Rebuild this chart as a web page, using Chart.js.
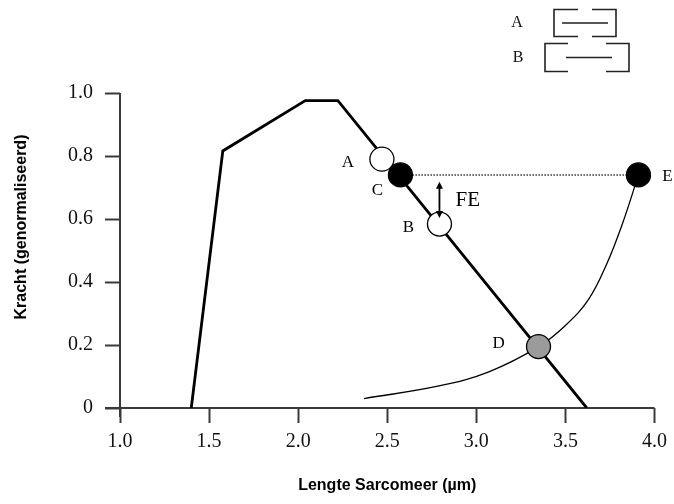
<!DOCTYPE html>
<html>
<head>
<meta charset="utf-8">
<script src="https://cdn.jsdelivr.net/npm/chart.js@4"></script>
<style>
  html, body { margin: 0; padding: 0; background: #ffffff; }
  #wrap { width: 674px; height: 504px; }
</style>
</head>
<body>
<div id="wrap"><canvas id="myChart" width="674" height="504"></canvas></div>
<script>
// active force-length relation (sarcomere length in um, normalised force)
var activeX = [1.40, 1.577, 2.04, 2.223, 3.62];
var activeY = [0, 0.816, 0.976, 0.976, 0];

// passive force curve
var passiveX = [2.37, 2.79, 3.07, 3.35, 3.50, 3.63, 3.73, 3.82, 3.91];
var passiveY = [0.03, 0.07, 0.115, 0.195, 0.262, 0.345, 0.455, 0.585, 0.74];

// labelled states
var pointNames = ['A', 'B', 'C', 'D', 'E'];
var pointX = [2.47, 2.793, 2.574, 3.349, 3.91];
var pointY = [0.79, 0.584, 0.74, 0.195, 0.74];
var pointFill = ['#ffffff', '#ffffff', '#000000', '#9b9b9b', '#000000'];

// horizontal dotted line C -> E
var dottedX = [2.574, 3.91];
var dottedY = [0.74, 0.74];

// force enhancement arrow (FE)
var arrowX = 2.793;
var arrowY = [0.718, 0.603];
var arrowLabel = 'FE';

var xMin = 1, xMax = 4, xStep = 0.5;
var yMin = 0, yMax = 1, yStep = 0.2;

var xTitle = 'Lengte Sarcomeer (\u00b5m)';
var yTitle = 'Kracht (genormaliseerd)';

var serif = '"Liberation Serif", "DejaVu Serif", serif';
var sans = '"Liberation Sans", Arial, sans-serif';

function toPoints(xs, ys) {
  var d = [];
  for (var i = 0; i < xs.length; i++) {
    d.push({x: xs[i], y: ys[i]});
  }
  return d;
}

// pixel offsets of the point letters from their circles
var labelOffsets = {A: [-34, 3], B: [-31, 3], C: [-23, 16], D: [-40, -3], E: [29, 2]};

function drawSarcomere(ctx, s) {
  ctx.beginPath();
  // left bracket
  ctx.moveTo(s.left + s.arm, s.top);
  ctx.lineTo(s.left, s.top);
  ctx.lineTo(s.left, s.bottom);
  ctx.lineTo(s.left + s.arm, s.bottom);
  // right bracket
  ctx.moveTo(s.right - s.arm, s.top);
  ctx.lineTo(s.right, s.top);
  ctx.lineTo(s.right, s.bottom);
  ctx.lineTo(s.right - s.arm, s.bottom);
  // thick filament
  var mid = (s.top + s.bottom) / 2;
  ctx.moveTo(s.midL, mid);
  ctx.lineTo(s.midR, mid);
  ctx.stroke();
  ctx.fillText(s.name, s.labelX, mid);
}

var annotate = {
  id: 'annotate',
  beforeDatasetsDraw: function(chart) {
    var ctx = chart.ctx;
    var x = chart.scales.x, y = chart.scales.y;
    var x0 = x.getPixelForValue(xMin), y0 = y.getPixelForValue(yMin);
    ctx.save();
    ctx.strokeStyle = '#3a3a3a';
    ctx.lineWidth = 2;
    ctx.beginPath();
    ctx.moveTo(x0 - 15, y0);
    ctx.lineTo(x.getPixelForValue(xMax), y0);
    ctx.moveTo(x0, y.getPixelForValue(yMax));
    ctx.lineTo(x0, y0 + 9);
    ctx.stroke();
    ctx.restore();
  },
  afterDatasetsDraw: function(chart) {
    var ctx = chart.ctx;
    var x = chart.scales.x, y = chart.scales.y;
    ctx.save();

    // FE double arrow
    var ax = x.getPixelForValue(arrowX);
    var a1 = y.getPixelForValue(arrowY[0]);
    var a2 = y.getPixelForValue(arrowY[1]);
    ctx.strokeStyle = '#000';
    ctx.fillStyle = '#000';
    ctx.lineWidth = 1.8;
    ctx.beginPath();
    ctx.moveTo(ax, a1 + 4);
    ctx.lineTo(ax, a2 - 4);
    ctx.stroke();
    ctx.beginPath();
    ctx.moveTo(ax, a1);
    ctx.lineTo(ax - 3.5, a1 + 7);
    ctx.lineTo(ax + 3.5, a1 + 7);
    ctx.closePath();
    ctx.moveTo(ax, a2);
    ctx.lineTo(ax - 3.5, a2 - 7);
    ctx.lineTo(ax + 3.5, a2 - 7);
    ctx.closePath();
    ctx.fill();

    ctx.font = '21px ' + serif;
    ctx.textAlign = 'left';
    ctx.textBaseline = 'middle';
    ctx.fillText(arrowLabel, ax + 16, (a1 + a2) / 2 + 1);

    // point letters
    ctx.font = '17px ' + serif;
    ctx.textAlign = 'center';
    for (var i = 0; i < pointNames.length; i++) {
      var off = labelOffsets[pointNames[i]];
      ctx.fillText(pointNames[i], x.getPixelForValue(pointX[i]) + off[0], y.getPixelForValue(pointY[i]) + off[1]);
    }

    // sarcomere sketches, top right
    ctx.lineWidth = 1.6;
    ctx.strokeStyle = '#222';
    ctx.fillStyle = '#111';
    ctx.font = '16px ' + serif;
    drawSarcomere(ctx, {name: 'A', labelX: 517, left: 554, right: 616, top: 9.5, bottom: 36.5, arm: 24, midL: 562, midR: 608});
    drawSarcomere(ctx, {name: 'B', labelX: 518, left: 545, right: 629, top: 43.5, bottom: 71.5, arm: 23, midL: 566, midR: 612});

    // y axis title
    ctx.save();
    ctx.translate(22, 227);
    ctx.rotate(-Math.PI / 2);
    ctx.font = 'bold 16px ' + sans;
    ctx.fillStyle = '#000';
    ctx.textAlign = 'center';
    ctx.textBaseline = 'middle';
    ctx.fillText(yTitle, 0, 0);
    ctx.restore();

    ctx.restore();
  }
};

window.onload = function() {
  var ctx = document.getElementById('myChart').getContext('2d');

  var pointsDataSet = {
    data: toPoints(pointX, pointY),
    showLine: false,
    pointRadius: 12,
    pointHoverRadius: 12,
    pointBackgroundColor: pointFill,
    pointBorderColor: '#000',
    pointBorderWidth: 1.3,
    order: 0
  };

  var activeDataSet = {
    data: toPoints(activeX, activeY),
    showLine: true,
    borderColor: '#000',
    borderWidth: 2.8,
    pointRadius: 0,
    order: 1
  };

  var passiveDataSet = {
    data: toPoints(passiveX, passiveY),
    showLine: true,
    borderColor: '#000',
    borderWidth: 1.3,
    tension: 0.4,
    pointRadius: 0,
    order: 2
  };

  var dottedDataSet = {
    data: toPoints(dottedX, dottedY),
    showLine: true,
    borderColor: '#333',
    borderWidth: 1.5,
    borderDash: [1.5, 1.5],
    pointRadius: 0,
    order: 3
  };

  new Chart(ctx, {
    type: 'scatter',
    data: {
      datasets: [pointsDataSet, activeDataSet, passiveDataSet, dottedDataSet]
    },
    options: {
      responsive: false,
      animation: false,
      events: [],
      layout: {padding: {top: 93, right: 19, left: 0, bottom: 0}},
      plugins: {legend: {display: false}, tooltip: {enabled: false}},
      scales: {
        x: {
          type: 'linear',
          min: xMin,
          max: xMax,
          afterFit: function(scale) { scale.height = 96; },
          border: {display: false},
          grid: {drawOnChartArea: false, drawTicks: true, tickLength: 15, tickColor: '#3a3a3a', tickWidth: 2},
          ticks: {
            stepSize: xStep,
            padding: 7,
            color: '#111',
            font: {family: serif, size: 20},
            callback: function(v) { return v.toFixed(1); }
          },
          title: {
            display: true,
            text: xTitle,
            color: '#000',
            font: {family: sans, size: 16, weight: 'bold'},
            padding: {top: 0, bottom: 9}
          }
        },
        y: {
          type: 'linear',
          min: yMin,
          max: yMax,
          afterFit: function(scale) { scale.width = 120; },
          border: {display: false},
          grid: {drawOnChartArea: false, drawTicks: true, tickLength: 15, tickColor: '#3a3a3a', tickWidth: 2},
          ticks: {
            stepSize: yStep,
            padding: 12,
            color: '#111',
            font: {family: serif, size: 20},
            callback: function(v) { return v === 0 ? '0' : v.toFixed(1); }
          }
        }
      }
    },
    plugins: [annotate]
  });
};
</script>
</body>
</html>
